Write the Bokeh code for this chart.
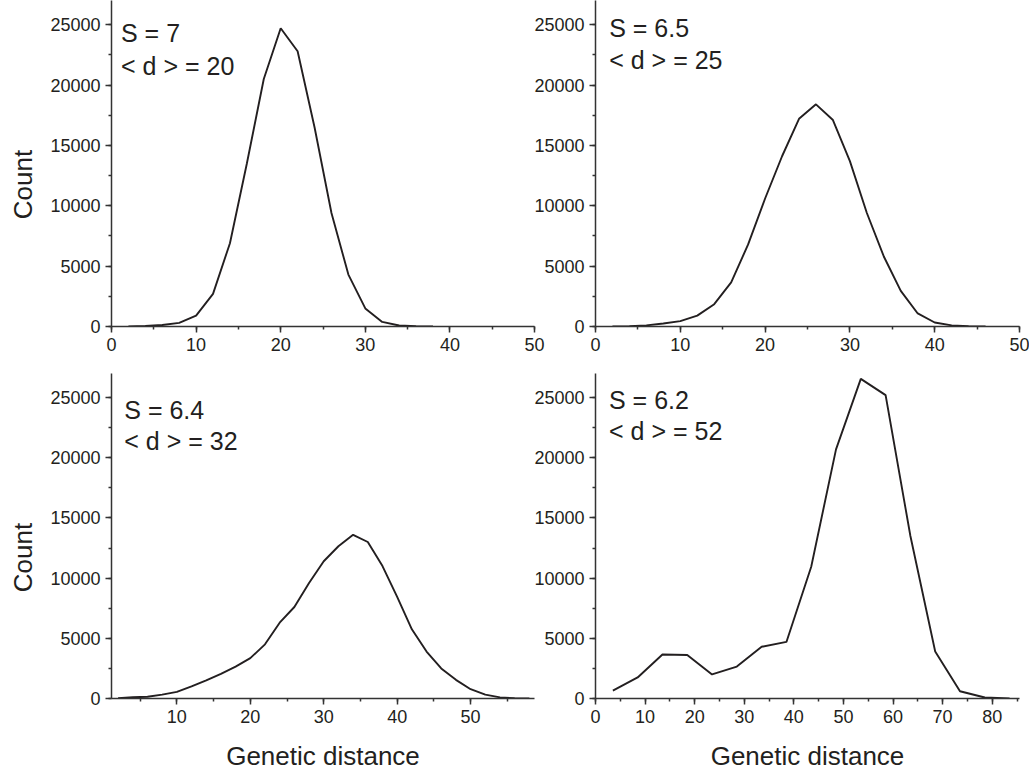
from math import pi
from bokeh.plotting import figure
from bokeh.models import Label, SingleIntervalTicker, Range1d
from bokeh.layouts import column, row
from bokeh.embed import file_html
from bokeh.resources import INLINE

# ---------------- data ----------------
a_x = [2, 4, 6, 8, 10, 12, 14, 16, 18, 20, 22, 24, 26, 28, 30, 32, 34, 36, 38]
a_y = [10, 40, 120, 300, 900, 2700, 6900, 13500, 20500, 24700, 22800, 16500,
       9400, 4300, 1500, 380, 80, 15, 0]

b_x = [2, 4, 6, 8, 10, 12, 14, 16, 18, 20, 22, 24, 26, 28, 30, 32, 34, 36, 38,
       40, 42, 44, 46]
b_y = [10, 30, 90, 250, 450, 900, 1850, 3650, 6800, 10600, 14100, 17200, 18400,
       17100, 13700, 9400, 5800, 2950, 1080, 330, 90, 20, 0]

c_x = [2, 4, 6, 8, 10, 12, 14, 16, 18, 20, 22, 24, 26, 28, 30, 32, 34, 36, 38,
       40, 42, 44, 46, 48, 50, 52, 54, 56, 58]
c_y = [30, 100, 150, 320, 550, 1000, 1500, 2050, 2650, 3350, 4500, 6300, 7600,
       9600, 11400, 12650, 13600, 13000, 11000, 8450, 5750, 3900, 2500, 1550,
       770, 320, 90, 20, 0]

d_x = [3.5, 8.5, 13.5, 18.5, 23.5, 28.5, 33.5, 38.5, 43.5, 48.5, 53.5, 58.5,
       63.5, 68.5, 73.5, 78.5, 83.5]
d_y = [650, 1750, 3650, 3620, 2000, 2650, 4300, 4700, 10950, 20700, 26550,
       25200, 13500, 3900, 600, 80, 10]

s_labels = ["S = 7", "S = 6.5", "S = 6.4", "S = 6.2"]
d_labels = ["< d > = 20", "< d > = 25", "< d > = 32", "< d > = 52"]
x_title = "Genetic distance"
y_title = "Count"

# ---------------- style ----------------
FONT = "Liberation Sans"
INK = "#231f20"
AX = "#333333"


def panel(xs, ys, xr, yr, w, h, bl, br, bt, bb, s_text, d_text,
          s_pos, d_pos, xlabel=None, margin=None):
    p = figure(width=w, height=h, x_range=Range1d(*xr), y_range=Range1d(*yr),
               output_backend="svg", toolbar_location=None,
               min_border_left=bl, min_border_right=br,
               min_border_top=bt, min_border_bottom=bb)
    p.outline_line_color = None
    p.grid.visible = False
    p.border_fill_alpha = 0
    if margin is not None:
        p.margin = margin
    p.line(xs, ys, line_color=INK, line_width=1.9)

    p.xaxis.ticker = SingleIntervalTicker(interval=10, num_minor_ticks=2)
    p.yaxis.ticker = SingleIntervalTicker(interval=5000, num_minor_ticks=2)
    for ax in (p.xaxis[0], p.yaxis[0]):
        ax.axis_line_color = AX
        ax.axis_line_width = 1.5
        ax.major_tick_line_color = AX
        ax.major_tick_line_width = 1.5
        ax.minor_tick_line_color = AX
        ax.minor_tick_line_width = 1.5
        ax.major_tick_in = 0
        ax.major_tick_out = 6
        ax.minor_tick_in = 0
        ax.minor_tick_out = 3
        ax.major_label_text_font = FONT
        ax.major_label_text_font_size = "18px"
        ax.major_label_text_color = INK
        ax.major_label_standoff = 5
    if xlabel:
        p.xaxis.axis_label = xlabel
        p.xaxis.axis_label_text_font = FONT
        p.xaxis.axis_label_text_font_size = "26px"
        p.xaxis.axis_label_text_font_style = "normal"
        p.xaxis.axis_label_text_color = INK
        p.xaxis.axis_label_standoff = 15

    for txt, pos in ((s_text, s_pos), (d_text, d_pos)):
        p.add_layout(Label(x=pos[0], y=pos[1], x_units="screen", y_units="screen",
                           text=txt, text_font=FONT, text_font_size="25px",
                           text_color=INK, text_align="left",
                           text_baseline="alphabetic"))
    return p


def count_strip(h, pos):
    c = figure(width=40, height=h, output_backend="svg", toolbar_location=None,
               x_axis_type=None, y_axis_type=None, min_border=0,
               x_range=Range1d(0, 1), y_range=Range1d(0, 1))
    c.outline_line_color = None
    c.grid.visible = False
    c.border_fill_alpha = 0
    c.background_fill_alpha = 0
    c.add_layout(Label(x=pos[0], y=pos[1], x_units="screen", y_units="screen",
                       text=y_title, angle=pi / 2, text_font=FONT,
                       text_font_size="26px", text_color=INK,
                       text_align="center", text_baseline="middle"))
    return c


TOP_H = 359
BOT_H = 414

c1 = count_strip(TOP_H, (22, 142))
p1 = panel(a_x, a_y, (0, 50), (0, 27000), 506, TOP_H, 71, 12, 0, 33,
           s_labels[0], d_labels[0], (9.5, 293.7), (9.5, 260.3))
p2 = panel(b_x, b_y, (0, 50), (0, 27000), 498, TOP_H, 64, 10, 0, 33,
           s_labels[1], d_labels[1], (13.7, 298.7), (13.7, 266.7),
           margin=(0, 0, 0, -15))
c2 = count_strip(BOT_H, (22, 141))
p3 = panel(c_x, c_y, (1.1, 58.7), (0, 27000), 506, BOT_H, 71, 12, 14, 74,
           s_labels[2], d_labels[2], (12.8, 289), (12.8, 257.3), xlabel=x_title)
p4 = panel(d_x, d_y, (0, 85.5), (0, 27000), 498, BOT_H, 64, 10, 14, 74,
           s_labels[3], d_labels[3], (13.5, 299), (13.5, 267.3),
           xlabel=x_title, margin=(0, 0, 0, -15))

layout = column(row(c1, p1, p2), row(c2, p3, p4))
open("out.html", "w").write(file_html(layout, INLINE))
